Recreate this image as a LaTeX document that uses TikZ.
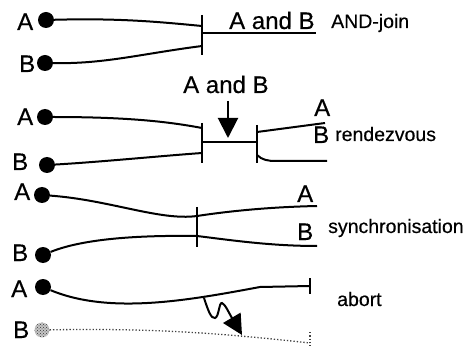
\documentclass[tikz,border=0pt]{standalone}
\usepackage{fontspec}
\setmainfont[FakeBold=0.4]{Liberation Sans}
\usetikzlibrary{arrows.meta,patterns}
\begin{document}
\begin{tikzpicture}[x=1pt,y=-1pt,
  dot/.style={circle,fill=black,inner sep=0pt,minimum size=16pt},
  gdot/.style={circle,preaction={fill=gray!45},pattern=crosshatch dots,pattern color=gray!40!black,inner sep=0pt,minimum size=15pt},
  flow/.style={line width=2pt},
  bar/.style={line width=2pt},
  ghost/.style={dotted,line width=1.3pt,gray!50!black},
  big/.style={font=\fontsize{24}{27}\selectfont,inner sep=0pt,anchor=base west},
  small/.style={font=\fontsize{19.5}{22}\selectfont,inner sep=0pt,anchor=base west},
  pointer/.style={line width=2pt,-{Triangle[length=20pt,width=20pt]}}]
\useasboundingbox (0,0) rectangle (465,347);

% ---------- AND-join ----------
\node[dot] (a1) at (46,20) {};
\node[big] (la1) at (17,30) {A};
\node[dot] (b1) at (45,63) {};
\node[big] (lb1) at (19,72) {B};
\coordinate (j1top) at (202,15);
\coordinate (j1bot) at (202,55);
\coordinate (j1a) at (202,26);
\coordinate (j1b) at (202,46);
\coordinate (j1o) at (202,33);
\coordinate (o1) at (316,33);
\draw[bar] (j1top) -- (j1bot);
\draw[flow] (a1) .. controls (120,18) and (160,22) .. (j1a);
\draw[flow] (b1) .. controls (105,64) and (140,54) .. (j1b);
\draw[flow] (j1o) -- (o1);
\node[big] (t1) at (229,29) {A and B};
\node[small] (n1) at (331,28) {AND-join};

% ---------- rendezvous ----------
\node[dot] (a2) at (45,117) {};
\node[big] (la2) at (17,125) {A};
\node[dot] (b2) at (47,165) {};
\node[big] (lb2) at (12,170) {B};
\coordinate (r1top) at (202,123);
\coordinate (r1bot) at (202,163);
\coordinate (r2top) at (257,125);
\coordinate (r2bot) at (257,163);
\coordinate (r1a) at (202,128);
\coordinate (r1b) at (202,153);
\coordinate (r1m) at (202,142);
\coordinate (r2m) at (257,142);
\coordinate (r2a) at (257,132);
\coordinate (r2b) at (257,155);
\coordinate (oa2) at (325,123);
\coordinate (ob2) at (327,161);
\draw[bar] (r1top) -- (r1bot);
\draw[bar] (r2top) -- (r2bot);
\draw[flow] (a2) .. controls (130,117) and (170,122) .. (r1a);
\draw[flow] (b2) .. controls (100,162) and (160,156) .. (r1b);
\draw[flow] (r1m) -- (r2m);
\draw[flow] (r2a) -- (oa2);
\draw[flow] (r2b) .. controls (262,160) and (268,161) .. (276,161) -- (ob2);
\node[big] (t2) at (183,93) {A and B};
\coordinate (arrs) at (228,101);
\coordinate (arre) at (228,138);
\draw[pointer] (arrs) -- (arre);
\node[big] (la2o) at (314,116) {A};
\node[big] (lb2o) at (313,143) {B};
\node[small] (n2) at (335,141) {rendezvous};

% ---------- synchronisation ----------
\node[dot] (a3) at (42,195) {};
\node[big] (la3) at (14,200) {A};
\node[dot] (b3) at (43,255) {};
\node[big] (lb3) at (12,261) {B};
\coordinate (s1top) at (197,207);
\coordinate (s1bot) at (197,247);
\coordinate (s1a) at (197,216);
\coordinate (s1b) at (197,236);
\coordinate (oa3) at (317,206);
\coordinate (ob3) at (317,246);
\draw[bar] (s1top) -- (s1bot);
\draw[flow] (a3) .. controls (110,200) and (160,221) .. (s1a)
            .. controls (230,211) and (270,207) .. (oa3);
\draw[flow] (b3) .. controls (80,240) and (130,235) .. (s1b)
            .. controls (230,240) and (270,246) .. (ob3);
\node[big] (la3o) at (297,202) {A};
\node[big] (lb3o) at (297,240) {B};
\node[small] (n3) at (328,233) {synchronisation};

% ---------- abort ----------
\node[dot] (a4) at (43,287) {};
\node[big] (la4) at (11,297) {A};
\node[gdot] (b4) at (42,330) {};
\node[big] (lb4) at (13,338) {B};
\coordinate (e4top) at (310,278);
\coordinate (e4bot) at (310,294);
\coordinate (e4) at (310,286);
\coordinate (m4) at (260,287);
\coordinate (eb4) at (310,343);
\coordinate (eb4top) at (310,332);
\coordinate (eb4bot) at (310,346);
\draw[bar] (e4top) -- (e4bot);
\draw[flow] (a4) .. controls (110,315) and (190,300) .. (m4) -- (e4);
\draw[ghost] (b4) .. controls (150,328) and (220,333) .. (eb4);
\draw[ghost] (eb4top) -- (eb4bot);
\coordinate (zs) at (204,298);
\coordinate (zt) at (242,335);
\draw[pointer] (zs) .. controls (208,310) and (211,319) .. (215,318)
   .. controls (219,317) and (219,302) .. (222,303)
   .. controls (225,304) and (229,313) .. (zt);
\node[small] (n4) at (337,306) {abort};
\end{tikzpicture}
\end{document}
